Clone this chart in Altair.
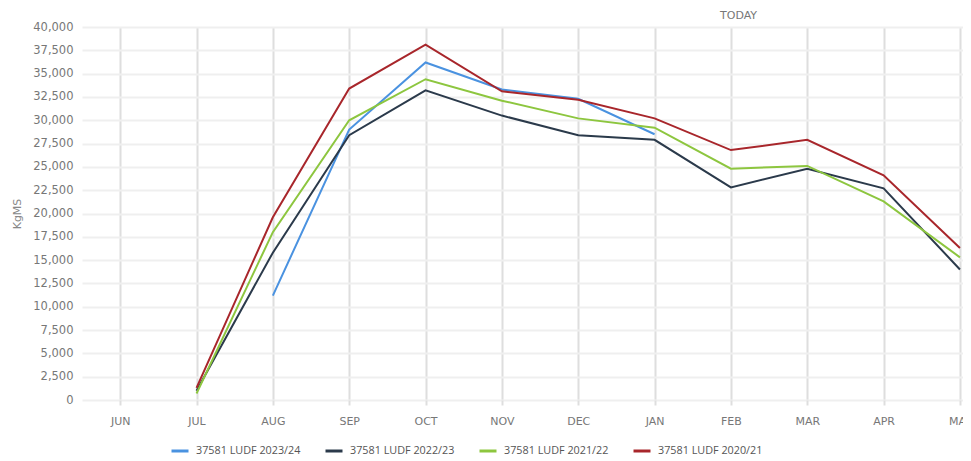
import altair as alt
import pandas as pd

months = ["JUN", "JUL", "AUG", "SEP", "OCT", "NOV", "DEC", "JAN", "FEB", "MAR", "APR", "MAY"]
series_names = ["37581 LUDF 2023/24", "37581 LUDF 2022/23", "37581 LUDF 2021/22", "37581 LUDF 2020/21"]
series_colors = ["#4a92e0", "#2b3a4b", "#8dc63f", "#a8262b"]
s2324 = [None, None, 11200, 29000, 36200, 33300, 32300, 28500, None, None, None, None]
s2223 = [None, 1000, 15800, 28400, 33200, 30500, 28400, 27900, 22800, 24800, 22700, 14000]
s2122 = [None, 700, 18000, 30000, 34400, 32100, 30200, 29200, 24800, 25100, 21300, 15300]
s2021 = [None, 1300, 19600, 33400, 38100, 33100, 32200, 30200, 26800, 27900, 24100, 16300]
today_pos = 8.1

rows = []
for name, vals in zip(series_names, [s2324, s2223, s2122, s2021]):
    for i, v in enumerate(vals):
        if v is not None:
            rows.append({"idx": i, "month": months[i], "value": v, "series": name})
df = pd.DataFrame(rows)

label_expr = "[" + ",".join(f"'{m}'" for m in months) + "][datum.value]"

x_enc = alt.X(
    "idx:Q",
    scale=alt.Scale(domain=[-0.5, 11.04], nice=False, zero=False),
    axis=alt.Axis(
        values=list(range(len(months))), labelExpr=label_expr, title=None,
        grid=True, gridColor="#dedede", gridWidth=2, domain=False,
        ticks=True, tickColor="#dedede", tickWidth=2, tickSize=5,
        labelPadding=10, labelColor="#777777", labelFont="DejaVu Sans", labelFontSize=11,
        labelOverlap=False, labelBound=False,
    ),
)
y_enc = alt.Y(
    "value:Q",
    scale=alt.Scale(domain=[0, 40000], nice=False),
    axis=alt.Axis(
        values=list(range(0, 40001, 2500)), labelExpr="format(datum.value, ',')", title="KgMS",
        grid=True, gridColor="#efefef", gridWidth=2, domain=False, ticks=False,
        labelPadding=9, labelColor="#777777", labelFont="DejaVu Sans", labelFontSize=11.5,
        titleColor="#888888", titleFont="DejaVu Sans", titleFontSize=11, titleFontWeight="normal",
        titlePadding=10,
    ),
)

lines = alt.Chart(df).mark_line(strokeWidth=2).encode(
    x=x_enc,
    y=y_enc,
    color=alt.Color(
        "series:N",
        scale=alt.Scale(domain=series_names, range=series_colors),
        legend=alt.Legend(
            title=None, orient="none", direction="horizontal", legendX=88, legendY=414,
            symbolType="stroke", symbolSize=289, symbolStrokeWidth=3,
            labelFont="Open Sans", labelFontSize=10.8, labelColor="#555555",
            columnPadding=18, labelOffset=6,
        ),
    ),
    order=alt.Order("series:N", sort="descending"),
)

today = alt.Chart(pd.DataFrame({"idx": [today_pos], "label": ["TODAY"]})).mark_text(
    font="DejaVu Sans", fontSize=11, color="#777777", baseline="middle", align="center"
).encode(x=alt.X("idx:Q"), y=alt.value(-11), text="label:N")

chart = alt.layer(lines, today).properties(
    width=881, height=373,
    autosize=alt.AutoSizeParams(type="none"),
    padding={"left": 74, "top": 19, "right": 0, "bottom": 62},
).configure_view(stroke=None)

chart.save("out.html", embed_options={"renderer": "svg", "actions": False})
